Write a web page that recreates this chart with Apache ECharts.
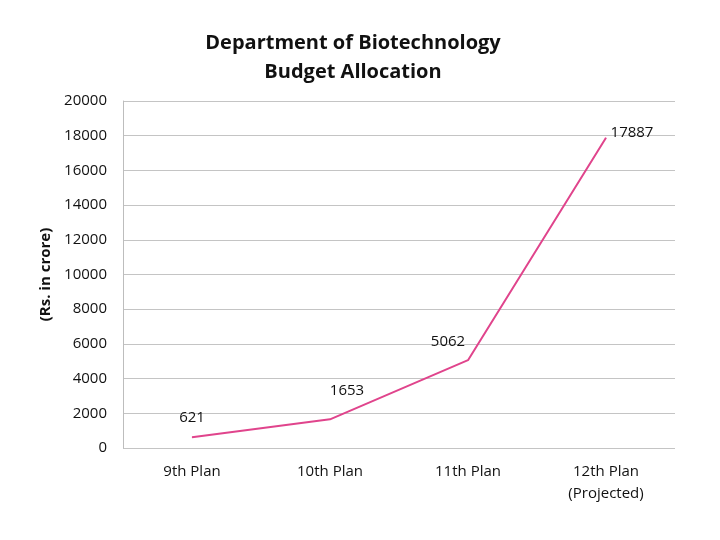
<!DOCTYPE html>
<html><head><meta charset="utf-8">
<script src="https://cdn.jsdelivr.net/npm/echarts@6/dist/echarts.min.js"></script>
<style>html,body{margin:0;padding:0;background:#fff}#c{width:720px;height:540px}</style>
</head><body><div id="c"></div>
<script>
var categories = ['9th Plan', '10th Plan', '11th Plan', '12th Plan\n(Projected)'];
var values = [621, 1653, 5062, 17887];
var labelOffsets = [[0, -7], [17, -16], [-20, -6], [26, 8]];

var chart = echarts.init(document.getElementById('c'));
var font = 'Open Sans';
chart.setOption({
  animation: false,
  title: {
    text: 'Department of Biotechnology\nBudget Allocation',
    left: 348, top: 24, textAlign: 'center',
    textStyle: {fontFamily: font, fontSize: 20, fontWeight: 'bold', color: '#111', lineHeight: 29}
  },
  grid: {left: 123, right: 45, top: 101, bottom: 92},
  xAxis: {
    type: 'category', data: categories, boundaryGap: true,
    axisLine: {show: false}, axisTick: {show: false},
    axisLabel: {fontFamily: font, fontSize: 15, color: '#111', margin: 13, lineHeight: 22}
  },
  yAxis: {
    type: 'value', min: 0, max: 20000, interval: 2000,
    name: '(Rs. in crore)', nameLocation: 'middle', nameGap: 68,
    nameTextStyle: {fontFamily: font, fontSize: 15, fontWeight: 'bold', color: '#111'},
    axisLine: {show: true, lineStyle: {color: '#bdbdbd'}}, axisTick: {show: false},
    axisLabel: {fontFamily: font, fontSize: 15, color: '#111', margin: 16,
      formatter: function (v) { return String(v); }},
    splitLine: {lineStyle: {color: '#c4c4c4'}}
  },
  series: [{
    type: 'line', smooth: false, symbol: 'circle', symbolSize: 0.5, showSymbol: true,
    itemStyle: {color: '#E0448C'},
    lineStyle: {color: '#E0448C', width: 2},
    label: {show: true, position: 'top', fontFamily: font, fontSize: 15, color: '#111'},
    data: values.map(function (v, i) {
      return {value: v, label: {offset: labelOffsets[i]}};
    })
  }]
});
</script></body></html>
